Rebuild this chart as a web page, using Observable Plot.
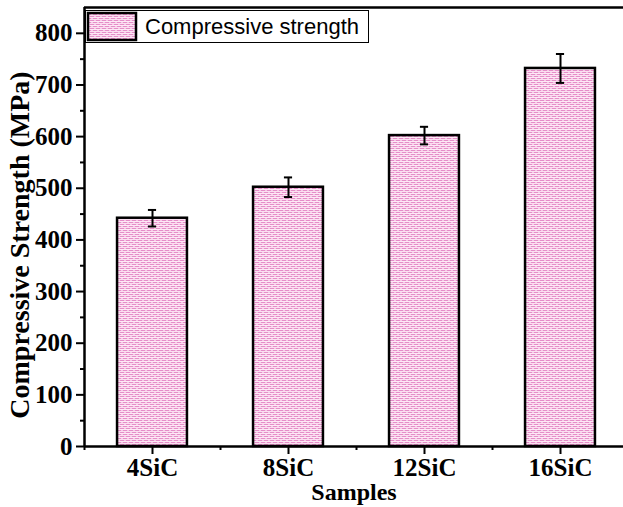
<!DOCTYPE html>
<html>
<head>
<meta charset="utf-8">
<script src="https://cdn.jsdelivr.net/npm/d3@7"></script>
<script src="https://cdn.jsdelivr.net/npm/@observablehq/plot@0.6"></script>
<style>
  html, body { margin: 0; padding: 0; background: #fff; }
  svg { overflow: hidden; }
</style>
</head>
<body>
<div id="chart"></div>
<script>
// ---- data ----
const samples = ["4SiC", "8SiC", "12SiC", "16SiC"];
const strength = [442, 502, 602, 732];        // MPa
const strengthErr = [16, 19, 17, 28];         // MPa (half error bar)
const yTicks = [0, 100, 200, 300, 400, 500, 600, 700, 800];
const yMinorTicks = [50, 150, 250, 350, 450, 550, 650, 750];
const legendLabel = "Compressive strength";
const xTitle = "Samples";
const yTitle = "Compressive Strength (MPa)";

const data = samples.map((s, k) => ({
  idx: k + 1, sample: s, value: strength[k],
  lo: strength[k] - strengthErr[k], hi: strength[k] + strengthErr[k]
}));

const half = 0.257;   // half bar width in category units
const cap = 0.03;     // half cap width
const serif = "'Liberation Serif', 'Times New Roman', serif";
const tickFont = 25;

const svg = Plot.plot({
  width: 623,
  height: 507,
  marginLeft: 84,
  marginRight: 0,
  marginTop: 7,
  marginBottom: 61,
  style: { fontFamily: serif, fontWeight: "bold", fontSize: tickFont + "px", color: "black", background: "white" },
  x: { type: "linear", domain: [0.5, 4.5], range: [84, 628] },
  y: { domain: [0, 850], range: [446, 7] },
  marks: [
    Plot.rect(data, {
      x1: d => d.idx - half, x2: d => d.idx + half, y1: 0, y2: "value",
      fill: "url(#pinkPattern)", stroke: "black", strokeWidth: 2.5
    }),
    Plot.ruleX(data, { x: "idx", y1: "lo", y2: "hi", stroke: "black", strokeWidth: 2 }),
    Plot.ruleY(data, { y: "hi", x1: d => d.idx - cap, x2: d => d.idx + cap, stroke: "black", strokeWidth: 2 }),
    Plot.ruleY(data, { y: "lo", x1: d => d.idx - cap, x2: d => d.idx + cap, stroke: "black", strokeWidth: 2 }),
    // axes
    Plot.axisY({ ticks: yTicks, tickSize: 8, tickPadding: 4, strokeWidth: 2, fontSize: tickFont, fontWeight: "bold", label: null }),
    Plot.axisY({ ticks: yMinorTicks, tickSize: 4, tickFormat: () => "", strokeWidth: 2, label: null }),
    Plot.axisX({ ticks: [1, 2, 3, 4], tickFormat: i => samples[i - 1], tickSize: 8, tickPadding: 4, strokeWidth: 2, fontSize: tickFont, fontWeight: "bold", label: null }),
    Plot.axisX({ ticks: [0.5, 1.5, 2.5, 3.5], tickSize: 4, tickFormat: () => "", strokeWidth: 2, label: null }),
    // frame lines
    Plot.ruleX([0.5], { stroke: "black", strokeWidth: 2.5 }),
    Plot.ruleY([0], { stroke: "black", strokeWidth: 2.5 }),
    Plot.ruleY([850], { stroke: "black", strokeWidth: 2.5 }),
    // titles
    Plot.text([xTitle], { frameAnchor: "bottom", dy: 53, fontSize: 24, fontWeight: "bold", text: d => d }),
    Plot.text([yTitle], { frameAnchor: "left", textAnchor: "middle", rotate: -90, dx: -64, dy: 18, fontSize: 28, fontWeight: "bold", text: d => d })
  ]
});

const s = d3.select(svg);
s.insert("defs", ":first-child").html(`
  <pattern id="pinkPattern" width="6" height="4" patternUnits="userSpaceOnUse">
    <rect width="6" height="4" fill="#f6c8e6"/>
    <rect x="0" y="0" width="4" height="1" fill="#e58dc8"/>
    <rect x="0" y="1" width="6" height="1" fill="#fdeaf6"/>
    <rect x="3" y="2" width="4" height="1" fill="#e58dc8"/>
    <rect x="0" y="2" width="1" height="1" fill="#e58dc8"/>
    <rect x="0" y="3" width="6" height="1" fill="#fbe0f1"/>
  </pattern>`);

// legend inside the plot area
const lg = s.append("g").attr("class", "legend");
lg.append("rect").attr("x", 85.5).attr("y", 10.5).attr("width", 283).attr("height", 32)
  .attr("fill", "white").attr("stroke", "black").attr("stroke-width", 1);
lg.append("rect").attr("x", 88).attr("y", 13).attr("width", 48).attr("height", 27)
  .attr("fill", "url(#pinkPattern)").attr("stroke", "black").attr("stroke-width", 2.5);
lg.append("text").attr("x", 145).attr("y", 34).attr("text-anchor", "start")
  .attr("font-family", "'Liberation Sans', Arial, sans-serif").attr("font-weight", "normal")
  .attr("font-size", 22).attr("fill", "black").text(legendLabel);

document.getElementById("chart").appendChild(svg);
</script>
</body>
</html>
